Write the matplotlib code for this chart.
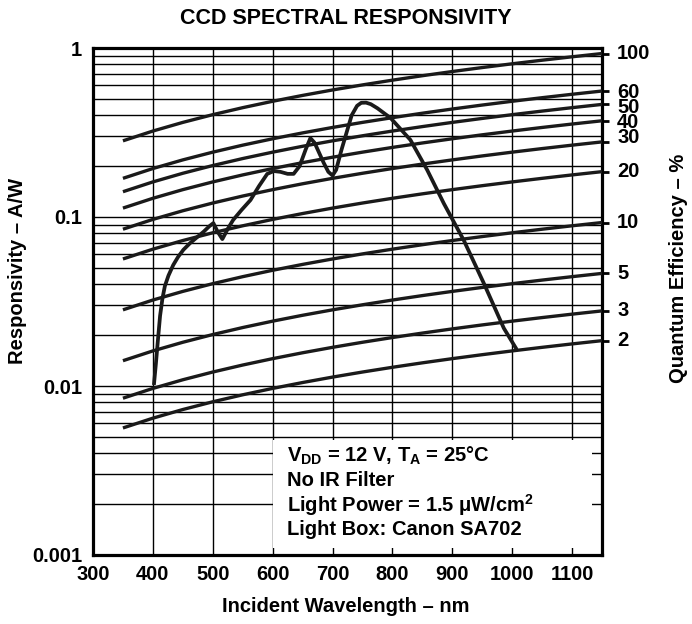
import matplotlib
matplotlib.use("Agg")
import matplotlib.pyplot as plt
from matplotlib.ticker import LogLocator, NullFormatter, FixedLocator
import numpy as np

plt.rcParams['font.family'] = ['Liberation Sans', 'DejaVu Sans']
plt.rcParams['font.weight'] = 'bold'
plt.rcParams['mathtext.fontset'] = 'custom'
plt.rcParams['mathtext.bf'] = 'Liberation Sans:bold'
plt.rcParams['mathtext.rm'] = 'Liberation Sans:bold'
plt.rcParams['mathtext.default'] = 'bf'

# Measured spectral responsivity (A/W) vs wavelength (nm)
curve_wl = [402, 405, 408, 412, 416, 420, 426, 434, 442, 451, 462, 474, 485, 494,
            501, 508, 516, 525, 534, 548, 563, 577, 591, 602, 613, 625, 635, 645,
            655, 663, 670, 685, 693, 700, 706, 715, 725, 732, 741, 748, 756, 764,
            775, 797, 830, 858, 886, 919, 952, 986, 1006]
curve_r = [0.0104, 0.0135, 0.018, 0.026, 0.033, 0.039, 0.045, 0.052, 0.058, 0.064,
           0.070, 0.076, 0.082, 0.088, 0.092, 0.082, 0.074, 0.085, 0.096, 0.110,
           0.126, 0.152, 0.180, 0.187, 0.185, 0.180, 0.180, 0.200, 0.250, 0.293,
           0.275, 0.210, 0.185, 0.176, 0.190, 0.250, 0.330, 0.400, 0.455, 0.474,
           0.475, 0.465, 0.440, 0.385, 0.286, 0.190, 0.120, 0.073, 0.041, 0.022,
           0.0168]

# Constant quantum-efficiency reference lines (R = QE * lambda / 1240)
qe_percent = [100, 60, 50, 40, 30, 20, 10, 5, 3, 2]
qe_wl = [350, 400, 450, 500, 550, 600, 650, 700, 750, 800, 850, 900, 950,
         1000, 1050, 1100, 1150]
# right-hand label groups: (labels, position on the A/W scale)
qe_single = [(100, 0.93), (20, 0.186), (10, 0.093), (5, 0.0464), (3, 0.0278), (2, 0.0186)]
qe_stack = [60, 50, 40, 30]
qe_stack_y = 0.40

x_ticks = [300, 400, 500, 600, 700, 800, 900, 1000, 1100]
y_ticks = [0.001, 0.01, 0.1, 1]
y_labels = ['0.001', '0.01', '0.1', '1']

FS = 14.5

fig = plt.figure(figsize=(6.92, 6.24), dpi=100)
ax = fig.add_axes([93/692, 1-555/624, (602-93)/692, (555-48)/624])
ax.set_yscale('log')
ax.set_xlim(300, 1150)
ax.set_ylim(0.001, 1)

ax.set_xticks(x_ticks)
ax.set_xticklabels([str(v) for v in x_ticks], fontsize=FS, fontweight='bold')
ax.set_yticks(y_ticks)
ax.set_yticklabels(y_labels, fontsize=FS, fontweight='bold')
ax.yaxis.set_minor_locator(LogLocator(base=10, subs=range(2, 10)))
ax.yaxis.set_minor_formatter(NullFormatter())
ax.tick_params(which='both', length=0, pad=7)
ax.tick_params(axis='y', pad=8)
ax.grid(True, which='both', axis='y', color='black', lw=1.0)
ax.grid(True, which='major', axis='x', color='black', lw=1.0)
for s in ax.spines.values():
    s.set_linewidth(2.3)

wl = np.array(qe_wl, dtype=float)
ends = []
for q in qe_percent:
    r = q / 100.0 * wl / 1240.0
    ax.plot(wl, r, color='#1a1a1a', lw=2.4, solid_capstyle='butt', zorder=3)
    ends.append(r[-1])

ax.plot(curve_wl, curve_r, color='#1a1a1a', lw=2.7, zorder=4,
        solid_joinstyle='round')

# text box
ax.add_patch(plt.Rectangle((0.354, 0.014), 0.626, 0.213, transform=ax.transAxes,
                           facecolor='white', edgecolor='none', zorder=5))
lines = [r'V$_{DD}$ = 12 V, T$_{A}$ = 25°C',
         'No IR Filter',
         r'Light Power = 1.5 μW/cm$^{2}$',
         'Light Box: Canon SA702']
y0 = 0.195
for i, t in enumerate(lines):
    ax.text(0.382, y0 - i*0.048, t, transform=ax.transAxes, fontsize=FS,
            fontweight='bold', va='center', ha='left', zorder=6)

# right-side QE ticks and labels
ax2 = ax.twinx()
ax2.set_yscale('log')
ax2.set_ylim(0.001, 1)
ax2.yaxis.set_major_locator(FixedLocator(ends))
ax2.yaxis.set_minor_locator(FixedLocator([]))
ax2.set_yticklabels([])
ax2.tick_params(axis='y', length=5, width=2, direction='out')
for s in ax2.spines.values():
    s.set_visible(False)
lab_x = 1.0 + 15/509
for q, yl in qe_single:
    ax2.text(lab_x, yl, str(q), transform=ax2.get_yaxis_transform(),
             fontsize=FS, fontweight='bold', ha='left', va='center')
ax2.text(lab_x, qe_stack_y, '\n'.join(str(q) for q in qe_stack),
         transform=ax2.get_yaxis_transform(), fontsize=FS, fontweight='bold',
         ha='left', va='center', linespacing=0.74)

fig.text(346/692, 1-18/624, 'CCD SPECTRAL RESPONSIVITY', ha='center', va='center',
         fontsize=15.5, fontweight='bold')
fig.text(346/692, 1-607/624, 'Incident Wavelength – nm', ha='center', va='center',
         fontsize=FS, fontweight='bold')
fig.text(18/692, 1-271/624, 'Responsivity – A/W', ha='center', va='center',
         rotation=90, fontsize=FS, fontweight='bold')
fig.text(678/692, 1-268/624, 'Quantum Efficiency – %', ha='center', va='center',
         rotation=90, fontsize=FS, fontweight='bold')

fig.savefig('out.png', dpi=100)
